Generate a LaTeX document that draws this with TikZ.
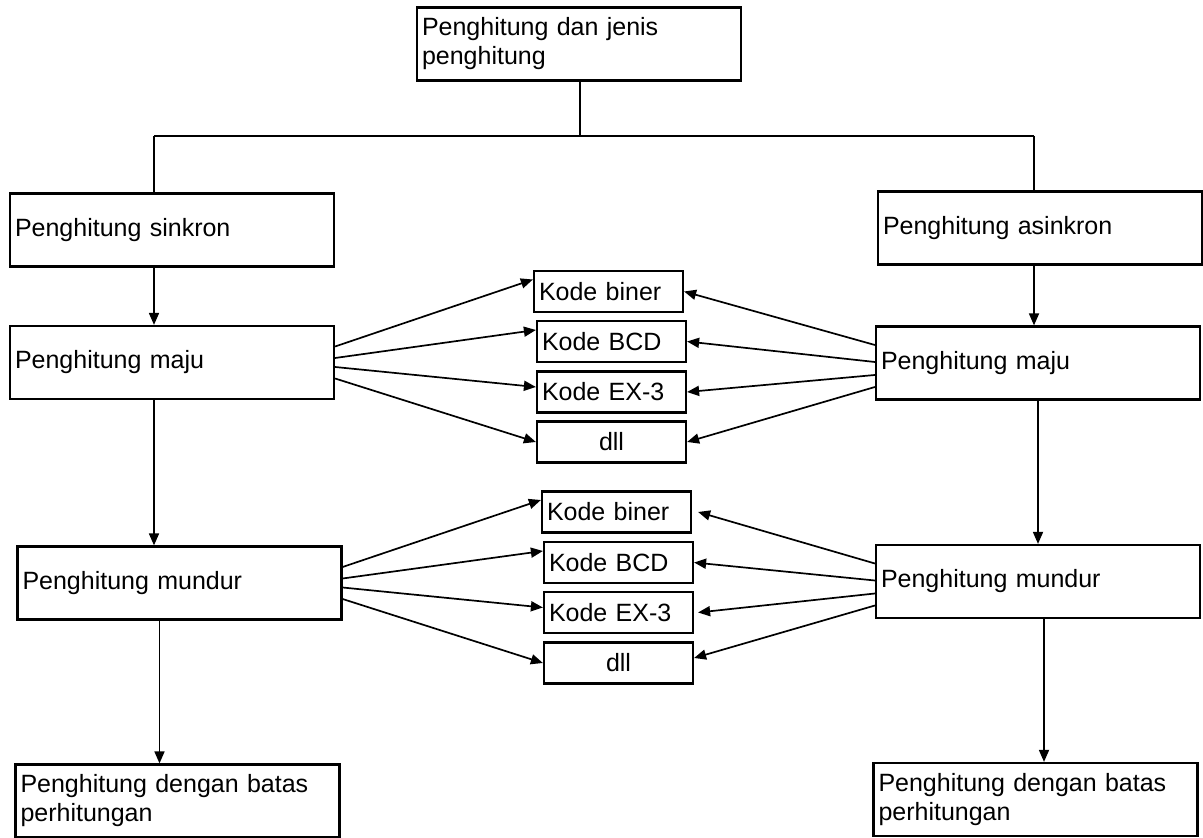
\documentclass[tikz,border=0pt]{standalone}
\usepackage{fontspec}
\setmainfont{Liberation Sans}
\usepackage[dvipsnames]{xcolor}
\usepackage{tikz}
\usetikzlibrary{arrows.meta}

\tikzset{
  box/.style={draw, line width=1.1pt, inner xsep=2.5pt, inner ysep=0pt, align=left,
    font=\fontsize{12.5}{14.5}\selectfont, text width=157pt, minimum height=36.5pt},
  kode/.style={box, text width=69.5pt, minimum height=20.5pt},
  arr/.style={-{Triangle[length=6pt,width=5pt]}, line width=0.85pt},
  link/.style={line width=0.7pt},
}

\begin{document}
\begin{tikzpicture}[x=0.5pt,y=-0.5pt]
  \useasboundingbox (0,0) rectangle (1203,838);

  \node[box] (Jenis) at (579,44) {Penghitung dan jenis\\penghitung};

  \node[box] (Sinkron) at (172,230) {Penghitung sinkron};
  \node[box] (MajuS) at (172,362.5) {Penghitung maju};
  \node[box] (MundurS) at (179.5,583) {Penghitung mundur};
  \node[box] (BatasS) at (177.5,801) {Penghitung dengan batas\\perhitungan};

  \node[box] (Asinkron) at (1040,228) {Penghitung asinkron};
  \node[box] (MajuA) at (1038,363) {Penghitung maju};
  \node[box] (MundurA) at (1038,581.5) {Penghitung mundur};
  \node[box] (BatasA) at (1035.5,799.5) {Penghitung dengan batas\\perhitungan};

  \node[kode] (BinerMaju) at (608.5,291.5) {Kode biner};
  \node[kode] (BcdMaju) at (611.5,341.5) {Kode BCD};
  \node[kode] (ExMaju) at (611.5,392) {Kode EX-3};
  \node[kode, align=center] (DllMaju) at (611.5,442) {dll};

  \node[kode] (BinerMundur) at (616.5,512) {Kode biner};
  \node[kode] (BcdMundur) at (618.5,562.5) {Kode BCD};
  \node[kode] (ExMundur) at (618.5,612.5) {Kode EX-3};
  \node[kode, align=center] (DllMundur) at (618.5,663) {dll};

  \coordinate (Cabang) at (580,136);
  \coordinate (CabangS) at (154,136);
  \coordinate (CabangA) at (1034,136);

  \draw[link] (Jenis.south -| Cabang) -- (Cabang);
  \draw[line width=1.1pt] (CabangS) -- (CabangA);
  \draw[link] (CabangS) -- (CabangS |- Sinkron.north);
  \draw[link] (CabangA) -- (CabangA |- Asinkron.north);

  \draw[arr] (Sinkron.south -| CabangS) -- (MajuS.north -| CabangS);
  \draw[arr] (MajuS.south -| CabangS) -- (MundurS.north -| CabangS);
  \draw[arr] ([xshift=-10pt]MundurS.south) -- ([xshift=-10pt]MundurS.south |- BatasS.north);

  \draw[arr] (Asinkron.south -| CabangA) -- (MajuA.north -| CabangA);
  \draw[arr] (MajuA.south) -- (MundurA.north);
  \draw[arr] ([xshift=3pt]MundurA.south) -- ([xshift=3pt]MundurA.south |- BatasA.north);

  \draw[arr] ([yshift=8pt]MajuS.east) -- ([yshift=6pt]BinerMaju.west);
  \draw[arr] ([yshift=2.25pt]MajuS.east) -- ([yshift=5.75pt]BcdMaju.west);
  \draw[arr] ([yshift=-2.25pt]MajuS.east) -- ([yshift=2.5pt]ExMaju.west);
  \draw[arr] ([yshift=-8pt]MajuS.east) -- (DllMaju.west);

  \draw[arr] ([yshift=9pt]MajuA.west) -- (BinerMaju.east);
  \draw[arr] ([yshift=0.5pt]MajuA.west) -- (BcdMaju.east);
  \draw[arr] ([yshift=-6pt]MajuA.west) -- (ExMaju.east);
  \draw[arr] ([yshift=-12pt]MajuA.west) -- (DllMaju.east);

  \draw[arr] ([yshift=8pt]MundurS.east) -- ([yshift=6pt]BinerMundur.west);
  \draw[arr] ([yshift=2.25pt]MundurS.east) -- ([yshift=5.75pt]BcdMundur.west);
  \draw[arr] ([yshift=-2.25pt]MundurS.east) -- ([yshift=2.5pt]ExMundur.west);
  \draw[arr] ([yshift=-8pt]MundurS.east) -- (DllMundur.west);

  \draw[arr] ([yshift=9pt]MundurA.west) -- ([xshift=3pt]BinerMundur.east);
  \draw[arr] ([yshift=0.5pt]MundurA.west) -- (BcdMundur.east);
  \draw[arr] ([yshift=-6pt]MundurA.west) -- ([xshift=2pt]ExMundur.east);
  \draw[arr] ([yshift=-12pt]MundurA.west) -- ([yshift=2.5pt]DllMundur.east);
\end{tikzpicture}
\end{document}
